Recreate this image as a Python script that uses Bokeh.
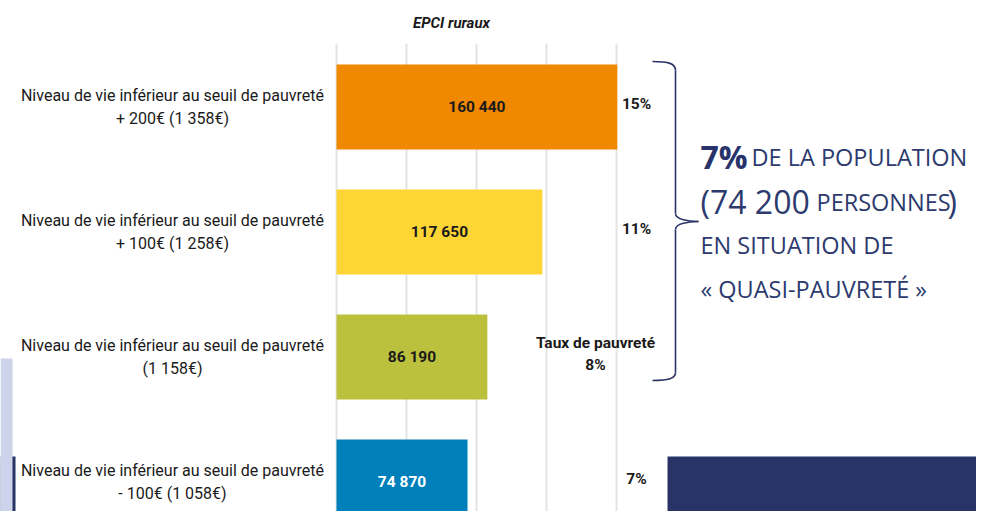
from bokeh.plotting import figure
from bokeh.models import Range1d, ColumnDataSource
from bokeh.embed import file_html
from bokeh.resources import INLINE
from bokeh.core.properties import value

# ---------------- data ----------------
categories = [
    "Niveau de vie inférieur au seuil de pauvreté\n+ 200€ (1 358€)",
    "Niveau de vie inférieur au seuil de pauvreté\n+ 100€ (1 258€)",
    "Niveau de vie inférieur au seuil de pauvreté\n(1 158€)",
    "Niveau de vie inférieur au seuil de pauvreté\n- 100€ (1 058€)",
]
values = [160440, 117650, 86190, 74870]
rates = ["15%", "11%", "Taux de pauvreté\n8%", "7%"]
ticks = [0, 40000, 80000, 120000, 160000]
bar_colors = ["#F08800", "#FDD535", "#BBC03D", "#0080BA"]
value_text_colors = ["#1a1a1a", "#1a1a1a", "#1a1a1a", "#ffffff"]
title = "EPCI ruraux"

# ---------------- layout (pixel geometry) ----------------
W, H = 976, 511          # figure size; fits the window with its 8px margin
X0_PX = 336              # pixel of value 0
PX_PER_TICK = 70.0       # pixels per 40 000
K = (ticks[1] - ticks[0]) / PX_PER_TICK
TOP_CENTER = 106.5       # pixel centre of first bar
PITCH = 125.0            # pixels between bars
BAR_H = 85.0 / PITCH

x_range = Range1d((0 - X0_PX) * K, (W - X0_PX) * K)
y_range = Range1d((H - TOP_CENTER) / PITCH, (0 - TOP_CENTER) / PITCH)

p = figure(width=W, height=H, output_backend="svg", toolbar_location=None,
           x_range=x_range, y_range=y_range, min_border=0,
           min_border_left=0, min_border_right=0, min_border_top=0, min_border_bottom=0,
           outline_line_color=None, background_fill_color="white",
           border_fill_color="white")
p.axis.visible = False
p.grid.visible = False
p.extra_x_ranges = {"px": Range1d(0, W)}
p.extra_y_ranges = {"py": Range1d(H, 0)}

idx = list(range(len(categories)))

# grid lines
p.segment(x0=ticks, x1=ticks, y0=[43] * len(ticks), y1=[540] * len(ticks),
          y_range_name="py", line_color="#e3e3e3", line_width=2)

# bars
src = ColumnDataSource(dict(
    y=idx, right=values, color=bar_colors,
    mid=[v / 2 for v in values],
    lab=[f"{v:,}".replace(",", " ") for v in values],
    tcol=value_text_colors,
))
p.hbar(y="y", left=0, right="right", height=BAR_H, fill_color="color",
       line_color=None, source=src)
p.text(x="mid", y="y", text="lab", text_color="tcol", source=src,
       text_align="center", text_baseline="middle",
       text_font=value("Roboto"), text_font_style="bold", text_font_size="15.5px")

# category labels (left)
cat_y = [TOP_CENTER + PITCH * i for i in idx]
p.text(x=[172] * len(idx), y=cat_y, text=categories, x_range_name="px", y_range_name="py",
       text_align="center", text_baseline="middle", text_color="#1a1a1a",
       text_font=value("Roboto"), text_font_size="16px", text_line_height=1.2)

# rates
rate_x = [636, 636, 595, 636]
rate_y = [TOP_CENTER + PITCH * i - 3 for i in idx]
p.text(x=rate_x, y=rate_y, text=rates, x_range_name="px", y_range_name="py",
       text_align="center", text_baseline="middle", text_color="#1a1a1a",
       text_font=value("Roboto"), text_font_style="bold", text_font_size="15.5px",
       text_line_height=1.2)

# title
p.text(x=[451], y=[22], text=[title], x_range_name="px", y_range_name="py",
       text_align="center", text_baseline="middle", text_color="#1a1a1a",
       text_font=value("Roboto"), text_font_style="bold italic", text_font_size="15px")

# decorations: left strip
p.quad(left=[0], right=[15], top=[456], bottom=[540], x_range_name="px", y_range_name="py",
       fill_color="#283466", line_color=None)
p.quad(left=[0], right=[12], top=[358], bottom=[520], x_range_name="px", y_range_name="py",
       fill_color="#CDD3EA", line_color=None)
# bottom right block
p.quad(left=[667], right=[1000], top=[456], bottom=[540], x_range_name="px", y_range_name="py",
       fill_color="#283466", line_color=None)

# brace
BR = "#2b3467"
p.bezier(x0=[652], y0=[61], x1=[675], y1=[70], cx0=[668], cy0=[61], cx1=[675], cy1=[63],
         x_range_name="px", y_range_name="py", line_color=BR, line_width=1.6)
p.line(x=[675, 675], y=[70, 213], x_range_name="px", y_range_name="py", line_color=BR, line_width=1.6)
p.bezier(x0=[675], y0=[213], x1=[698], y1=[221], cx0=[675], cy0=[219], cx1=[688], cy1=[221],
         x_range_name="px", y_range_name="py", line_color=BR, line_width=1.6)
p.bezier(x0=[698], y0=[221], x1=[675], y1=[229], cx0=[688], cy0=[221], cx1=[675], cy1=[223],
         x_range_name="px", y_range_name="py", line_color=BR, line_width=1.6)
p.line(x=[675, 675], y=[229, 372], x_range_name="px", y_range_name="py", line_color=BR, line_width=1.6)
p.bezier(x0=[675], y0=[372], x1=[652], y1=[380], cx0=[675], cy0=[378], cx1=[668], cy1=[380],
         x_range_name="px", y_range_name="py", line_color=BR, line_width=1.6)

# right text block
TXT = "#2c3a6e"
pieces = [
    ("7%", 700, 156, "bold", "32px", "#27336a"),
    ("DE LA POPULATION", 751, 156, "normal", "23.5px", TXT),
    ("(74 200", 700, 201, "normal", "32px", TXT),
    ("PERSONNES", 816, 201, "normal", "23.5px", TXT),
    (")", 947, 201, "normal", "32px", TXT),
    ("EN SITUATION DE", 700, 244, "normal", "23.5px", TXT),
    ("« QUASI-PAUVRETÉ »", 700, 288, "normal", "23.5px", TXT),
]
for t, x, y, st, sz, c in pieces:
    p.text(x=[x], y=[y], text=[t], x_range_name="px", y_range_name="py",
           text_align="left", text_baseline="alphabetic", text_color=c,
           text_font=value("Open Sans"), text_font_style=st, text_font_size=sz)

open("out.html", "w").write(file_html(p, INLINE))
